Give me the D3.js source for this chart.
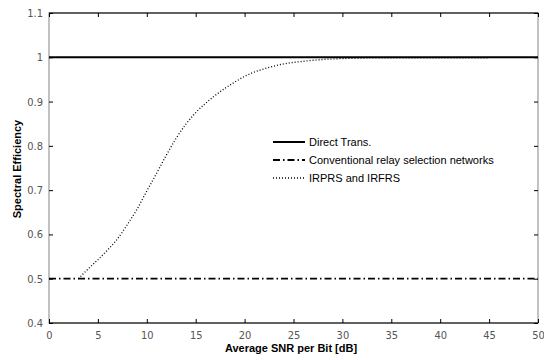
<!DOCTYPE html>
<html>
<head>
<meta charset="utf-8">
<script src="https://cdn.jsdelivr.net/npm/d3@7"></script>
<style>
  body { margin: 0; background: #fff; }
  .tickText { font-family: "Liberation Sans Narrow", "DejaVu Sans Condensed", "Liberation Sans", Arial, sans-serif; font-size: 11px; fill: #555; }
  .axLabel { font-family: "Liberation Sans", Arial, sans-serif; font-size: 11px; font-weight: bold; fill: #000; }
  .legText { font-family: "Liberation Sans", Arial, sans-serif; font-size: 11px; fill: #000; }
</style>
</head>
<body>
<div id="chart"></div>
<script>
// data
var xTicks = [0, 5, 10, 15, 20, 25, 30, 35, 40, 45, 50];
var yTicks = [0.4, 0.5, 0.6, 0.7, 0.8, 0.9, 1, 1.1];

var directX = [0, 50];
var directY = [1, 1];

var convX = [0, 50];
var convY = [0.5, 0.5];

var irprsX = [3, 4, 5, 6, 7, 8, 9, 10, 11, 12, 13, 14, 15, 16, 17, 18, 19, 20, 22, 24, 26, 28, 30, 35, 40, 45];
var irprsY = [0.5, 0.522, 0.543, 0.565, 0.59, 0.622, 0.657, 0.698, 0.738, 0.779, 0.817, 0.849, 0.875, 0.896, 0.914, 0.93, 0.944, 0.957, 0.974, 0.985, 0.991, 0.995, 0.997, 0.999, 0.999, 0.999];

var legendNames = ["Direct Trans.", "Conventional relay selection networks", "IRPRS and IRFRS"];

var width = 544;
var height = 360;
var plotL = 49, plotR = 538, plotT = 13, plotB = 323;

var svg = d3.select("#chart")
  .append("svg")
  .attr("width", width)
  .attr("height", height);

var xScale = d3.scaleLinear().domain([0, 50]).range([plotL, plotR]);
var yScale = d3.scaleLinear().domain([0.4, 1.1]).range([plotB, plotT]);

// frame: grey sides, black top and bottom
svg.append("rect")
  .attr("x", plotL).attr("y", plotT)
  .attr("width", plotR - plotL).attr("height", plotB - plotT)
  .attr("fill", "none").attr("stroke", "#999").attr("stroke-width", 1.2);
svg.append("line").attr("x1", plotL).attr("x2", plotR).attr("y1", plotT).attr("y2", plotT)
  .attr("stroke", "#000").attr("stroke-width", 1.2);
svg.append("line").attr("x1", plotL).attr("x2", plotR).attr("y1", plotB).attr("y2", plotB)
  .attr("stroke", "#000").attr("stroke-width", 1.2);

// axes with inward ticks
var xAxis = d3.axisBottom(xScale).tickValues(xTicks).tickSize(-4).tickPadding(8).tickFormat(d3.format("d"));
var xAxisTop = d3.axisTop(xScale).tickValues(xTicks).tickSize(-4).tickFormat("");
var yAxis = d3.axisLeft(yScale).tickValues(yTicks).tickSize(-4).tickPadding(6).tickFormat(function(d) { return String(+d.toFixed(1)); });
var yAxisRight = d3.axisRight(yScale).tickValues(yTicks).tickSize(-4).tickFormat("");

function styleAxis(g) {
  g.select(".domain").remove();
  g.selectAll(".tick line").attr("stroke", "#000");
  g.selectAll(".tick text").attr("class", "tickText");
  g.attr("font-family", null).attr("font-size", null);
}

svg.append("g").attr("transform", "translate(0," + plotB + ")").call(xAxis).call(styleAxis);
svg.append("g").attr("transform", "translate(0," + plotT + ")").call(xAxisTop).call(styleAxis);
svg.append("g").attr("transform", "translate(" + plotL + ",0)").call(yAxis).call(styleAxis);
svg.append("g").attr("transform", "translate(" + plotR + ",0)").call(yAxisRight).call(styleAxis);

var line = d3.line()
  .x(function(d) { return xScale(d[0]); })
  .y(function(d) { return yScale(d[1]); })
  .curve(d3.curveMonotoneX);

var series = [
  { x: directX, y: directY, dash: null, w: 2 },
  { x: convX, y: convY, dash: "7,3,1.5,3", w: 1.8 },
  { x: irprsX, y: irprsY, dash: "1,2", w: 1.3 }
];

series.forEach(function(s) {
  var pts = s.x.map(function(v, i) { return [v, s.y[i]]; });
  svg.append("path")
    .datum(pts)
    .attr("d", line)
    .attr("fill", "none")
    .attr("stroke", "#000")
    .attr("stroke-width", s.w)
    .attr("stroke-dasharray", s.dash);
});

// legend
var legend = svg.append("g").attr("transform", "translate(273,142)");
legendNames.forEach(function(name, i) {
  var s = series[i];
  legend.append("line")
    .attr("x1", 0).attr("x2", 32)
    .attr("y1", i * 18).attr("y2", i * 18)
    .attr("stroke", "#000")
    .attr("stroke-width", s.w)
    .attr("stroke-dasharray", s.dash);
  legend.append("text")
    .attr("class", "legText")
    .attr("x", 36)
    .attr("y", i * 18 + 4)
    .text(name);
});

// axis labels
svg.append("text")
  .attr("class", "axLabel")
  .attr("x", 291)
  .attr("y", 352)
  .attr("text-anchor", "middle")
  .text("Average SNR per Bit [dB]");

svg.append("text")
  .attr("class", "axLabel")
  .attr("transform", "translate(21,169)rotate(-90)")
  .attr("text-anchor", "middle")
  .text("Spectral Efficiency");
</script>
</body>
</html>
